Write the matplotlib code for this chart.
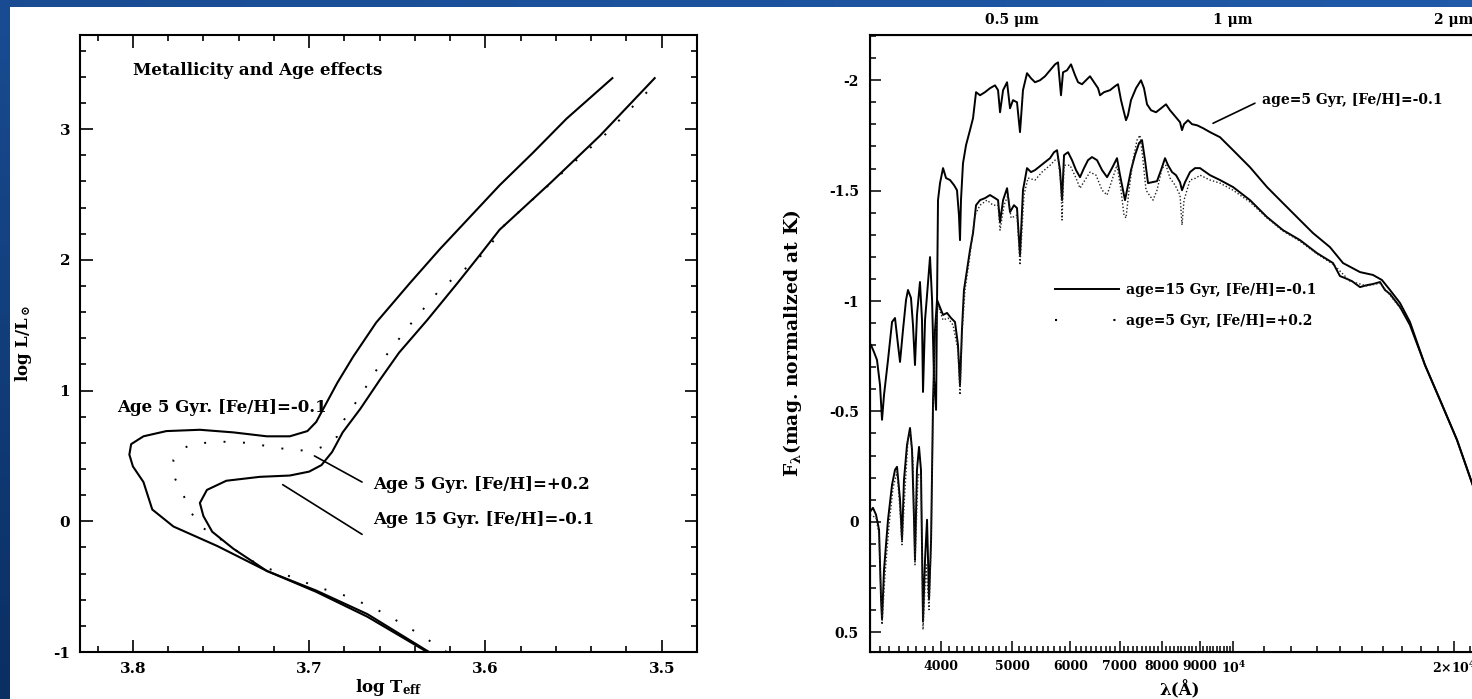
import numpy as np
import matplotlib
matplotlib.use('Agg')
import matplotlib.pyplot as plt
from matplotlib.lines import Line2D
from matplotlib.patches import Rectangle
from matplotlib.ticker import MultipleLocator, NullFormatter

plt.rcParams['font.family'] = ['DejaVu Serif']
plt.rcParams['font.weight'] = 'bold'
plt.rcParams['axes.labelweight'] = 'bold'
plt.rcParams['mathtext.fontset'] = 'custom'
plt.rcParams['mathtext.rm'] = 'DejaVu Serif:bold'
plt.rcParams['mathtext.it'] = 'DejaVu Serif:italic:bold'
plt.rcParams['mathtext.bf'] = 'DejaVu Serif:bold'
plt.rcParams['mathtext.default'] = 'rm'
plt.rcParams['axes.unicode_minus'] = False

# ---- left panel: isochrones (log Teff, log L/Lsun) ----
# Age 5 Gyr, [Fe/H]=-0.1
iso_a_logt = [3.633, 3.667, 3.696, 3.724, 3.752, 3.777, 3.789, 3.794, 3.800, 3.802, 3.801,
              3.794, 3.781, 3.762, 3.743, 3.724, 3.711, 3.701, 3.696, 3.690, 3.684, 3.675,
              3.662, 3.643, 3.626, 3.592, 3.573, 3.554, 3.528]
iso_a_logl = [-1.00, -0.73, -0.54, -0.38, -0.19, -0.04, 0.09, 0.30, 0.42, 0.51, 0.59,
              0.65, 0.69, 0.70, 0.68, 0.65, 0.65, 0.69, 0.76, 0.91, 1.06, 1.26,
              1.52, 1.82, 2.08, 2.57, 2.82, 3.08, 3.39]
# Age 15 Gyr, [Fe/H]=-0.1
iso_b_logt = [3.632, 3.667, 3.696, 3.724, 3.743, 3.755, 3.760, 3.762, 3.758, 3.747, 3.728,
              3.711, 3.700, 3.693, 3.687, 3.681, 3.671, 3.660, 3.649, 3.633, 3.616, 3.603,
              3.592, 3.563, 3.535, 3.504]
iso_b_logl = [-1.00, -0.71, -0.53, -0.38, -0.21, -0.08, 0.04, 0.14, 0.24, 0.31, 0.34,
              0.35, 0.38, 0.43, 0.53, 0.68, 0.86, 1.08, 1.29, 1.54, 1.82, 2.04,
              2.23, 2.59, 2.95, 3.39]
# Age 5 Gyr, [Fe/H]=+0.2 (dotted)
iso_c_logt = [3.622, 3.639, 3.658, 3.677, 3.696, 3.715, 3.728, 3.743, 3.755, 3.762, 3.767,
              3.772, 3.777, 3.777, 3.772, 3.767, 3.751, 3.735, 3.717, 3.707, 3.696, 3.689,
              3.684, 3.680, 3.670, 3.658, 3.643, 3.626, 3.600, 3.589, 3.561, 3.532, 3.502]
iso_c_logl = [-1.00, -0.85, -0.70, -0.58, -0.50, -0.40, -0.34, -0.21, -0.09, -0.04, 0.07,
              0.22, 0.35, 0.47, 0.55, 0.59, 0.61, 0.60, 0.56, 0.54, 0.55, 0.59,
              0.65, 0.78, 0.98, 1.24, 1.50, 1.77, 2.06, 2.27, 2.61, 2.96, 3.37]

# ---- right panel: spectra, wavelength (A) and magnitude ----
sp_old_wave = [3210, 3240, 3271, 3302, 3323, 3344, 3386, 3429, 3461, 3494, 3516, 3549, 3583,
               3605, 3639, 3662, 3685, 3708, 3743, 3767, 3779, 3803, 3827, 3863, 3888, 3912,
               3937, 3949, 3961, 3986, 4024, 4062, 4113, 4165, 4204, 4230, 4244, 4257, 4284,
               4325, 4379, 4421, 4463, 4519, 4590, 4663, 4737, 4782, 4812, 4858, 4919, 4965,
               5012, 5075, 5123, 5171, 5237, 5303, 5370, 5455, 5541, 5629, 5718, 5772, 5826,
               5863, 5937, 6012, 6088, 6146, 6223, 6301, 6381, 6462, 6544, 6585, 6668, 6794,
               6902, 6967, 7033, 7077, 7144, 7189, 7257, 7372, 7488, 7559, 7631, 7728, 7849,
               7974, 8099, 8202, 8332, 8463, 8516, 8570, 8678, 8788, 8927, 9096, 9298, 9594,
               9997, 10541, 11120, 11581, 12215, 12842, 13547, 14112, 14885, 15504, 15946,
               16352, 16875, 17411, 18250, 19130, 20177, 21149, 21693]
sp_old_mag = [-0.801, -0.769, -0.733, -0.620, -0.462, -0.575, -0.733, -0.905, -0.923, -0.801,
              -0.724, -0.869, -1.005, -1.050, -1.014, -0.891, -0.710, -0.937, -1.086, -0.914,
              -0.588, -0.914, -1.027, -1.199, -1.005, -0.643, -0.507, -1.005, -1.457, -1.534,
              -1.602, -1.557, -1.548, -1.525, -1.502, -1.389, -1.276, -1.457, -1.624, -1.706,
              -1.774, -1.828, -1.946, -1.932, -1.946, -1.964, -1.977, -1.955, -1.855, -1.955,
              -1.991, -1.873, -1.910, -1.900, -1.765, -1.955, -2.032, -2.009, -1.991, -2.000,
              -2.018, -2.045, -2.072, -2.081, -1.932, -2.036, -2.045, -2.072, -2.023, -1.991,
              -1.982, -2.000, -2.018, -1.991, -1.964, -1.932, -1.946, -1.955, -1.973, -1.982,
              -1.910, -1.873, -1.819, -1.842, -1.910, -1.964, -2.000, -1.964, -1.891, -1.864,
              -1.855, -1.873, -1.891, -1.864, -1.837, -1.810, -1.774, -1.801, -1.819, -1.801,
              -1.796, -1.783, -1.765, -1.742, -1.683, -1.606, -1.516, -1.457, -1.380, -1.308,
              -1.244, -1.172, -1.131, -1.118, -1.095, -1.050, -0.991, -0.905, -0.710, -0.552,
              -0.371, -0.176, -0.077]

sp_young_wave = [3200, 3230, 3261, 3292, 3313, 3323, 3344, 3386, 3429, 3461, 3483, 3516, 3538,
                 3560, 3594, 3628, 3651, 3674, 3685, 3708, 3732, 3755, 3779, 3803, 3827, 3851,
                 3876, 3900, 3924, 3949, 3974, 4024, 4075, 4126, 4178, 4217, 4244, 4270, 4297,
                 4338, 4379, 4421, 4463, 4519, 4590, 4663, 4737, 4782, 4812, 4858, 4919, 4965,
                 5027, 5075, 5123, 5171, 5237, 5303, 5370, 5455, 5541, 5629, 5700, 5754, 5808,
                 5845, 5882, 5956, 6031, 6107, 6184, 6262, 6341, 6421, 6523, 6627, 6732, 6837,
                 6945, 7011, 7077, 7122, 7189, 7257, 7349, 7442, 7512, 7583, 7655, 7752, 7874,
                 7974, 8074, 8151, 8254, 8358, 8463, 8516, 8597, 8733, 8871, 9011, 9298, 9594,
                 9997, 10541, 11120, 11690, 12329, 13005, 13677, 13978, 14198, 14515, 14885,
                 15216, 15504, 15847, 16097, 16352, 16875, 17411, 18250, 19130, 20177, 21149,
                 21693]
sp_young_mag = [-0.045, -0.063, -0.032, 0.036, 0.353, 0.443, 0.217, -0.009, -0.167, -0.235,
                -0.249, -0.100, 0.081, -0.190, -0.348, -0.425, -0.326, -0.009, 0.172, -0.235,
                -0.339, -0.235, 0.452, 0.172, -0.009, 0.353, 0.081, -0.552, -0.869, -1.005,
                -0.982, -0.937, -0.946, -0.923, -0.905, -0.801, -0.620, -0.869, -1.050, -1.140,
                -1.231, -1.308, -1.434, -1.457, -1.466, -1.480, -1.466, -1.457, -1.357, -1.457,
                -1.511, -1.403, -1.434, -1.421, -1.208, -1.502, -1.602, -1.584, -1.593, -1.611,
                -1.629, -1.647, -1.674, -1.683, -1.593, -1.457, -1.661, -1.674, -1.638, -1.593,
                -1.561, -1.602, -1.638, -1.652, -1.638, -1.593, -1.561, -1.602, -1.647, -1.570,
                -1.502, -1.457, -1.525, -1.593, -1.661, -1.715, -1.729, -1.638, -1.534, -1.538,
                -1.543, -1.593, -1.647, -1.615, -1.584, -1.570, -1.538, -1.502, -1.538, -1.584,
                -1.602, -1.602, -1.570, -1.548, -1.516, -1.457, -1.380, -1.321, -1.276, -1.217,
                -1.172, -1.113, -1.104, -1.090, -1.063, -1.072, -1.077, -1.086, -1.050, -1.032,
                -0.973, -0.891, -0.710, -0.552, -0.371, -0.176, -0.077]

sp_metal_wave = [3200, 3261, 3292, 3323, 3354, 3397, 3440, 3483, 3516, 3538, 3571, 3605, 3628,
                 3662, 3685, 3720, 3755, 3779, 3815, 3851, 3876, 3900, 3924, 3961, 4024, 4088,
                 4152, 4217, 4244, 4270, 4311, 4379, 4449, 4519, 4619, 4707, 4782, 4812, 4873,
                 4934, 4981, 5075, 5123, 5187, 5253, 5370, 5489, 5629, 5718, 5772, 5826, 5845,
                 5882, 5993, 6107, 6184, 6282, 6381, 6503, 6627, 6732, 6837, 6945, 7033, 7099,
                 7144, 7212, 7303, 7395, 7465, 7535, 7607, 7704, 7776, 7874, 7999, 8099, 8202,
                 8332, 8463, 8516, 8570, 8733, 8899, 9011, 9298, 9594, 9997, 10541, 11120,
                 11690, 12329, 13005, 13677, 14426, 15216, 15847, 16352, 16875]
sp_metal_mag = [-0.032, -0.018, 0.059, 0.466, 0.240, 0.014, -0.154, -0.226, -0.054, 0.104,
                -0.145, -0.371, -0.407, -0.281, 0.195, -0.213, -0.213, 0.489, 0.195, 0.398,
                0.104, -0.507, -0.824, -0.982, -0.914, -0.923, -0.891, -0.778, -0.575, -0.846,
                -1.050, -1.208, -1.389, -1.434, -1.457, -1.434, -1.434, -1.321, -1.434, -1.480,
                -1.376, -1.389, -1.163, -1.480, -1.557, -1.548, -1.584, -1.615, -1.638, -1.647,
                -1.525, -1.367, -1.615, -1.615, -1.557, -1.511, -1.548, -1.584, -1.570, -1.502,
                -1.480, -1.548, -1.615, -1.502, -1.389, -1.376, -1.502, -1.638, -1.729, -1.751,
                -1.638, -1.502, -1.475, -1.457, -1.502, -1.602, -1.615, -1.557, -1.525, -1.480,
                -1.344, -1.457, -1.548, -1.557, -1.570, -1.548, -1.534, -1.502, -1.448, -1.376,
                -1.317, -1.271, -1.213, -1.167, -1.090, -1.068, -1.081, -1.027, -0.968]

W, H = 1472, 699
fig = plt.figure(figsize=(W / 100, H / 100), dpi=100)

# slide background (blue) with the white scanned page on top
bg = fig.add_axes([0, 0, 1, 1], zorder=-10)
gy, gx = np.mgrid[0:1:60j, 0:1:60j]
shade = 0.55 * gy + 0.25 * (1 - gx)
bg.imshow(shade, cmap=matplotlib.colors.LinearSegmentedColormap.from_list(
    'slide', ['#2059a8', '#0a2f63']), aspect='auto', extent=[0, 1, 0, 1])
bg.set_axis_off()
fig.patches.append(Rectangle((10 / W, 0), 1, (H - 7) / H, transform=fig.transFigure,
                             facecolor='white', edgecolor='none', zorder=-5))

# ---------------- left panel ----------------
ax1 = fig.add_axes([80 / W, 47 / H, 617 / W, 617 / H])
ax1.plot(iso_a_logt, iso_a_logl, color='black', lw=1.5)
ax1.plot(iso_b_logt, iso_b_logl, color='black', lw=1.5)
ax1.plot(iso_c_logt, iso_c_logl, color='black', lw=1.4, ls=(0, (1, 9)))
ax1.set_xlim(3.830, 3.480)
ax1.set_ylim(-1.0, 3.72)
ax1.set_xticks([3.8, 3.7, 3.6, 3.5])
ax1.set_yticks([-1, 0, 1, 2, 3])
ax1.xaxis.set_minor_locator(MultipleLocator(0.02))
ax1.yaxis.set_minor_locator(MultipleLocator(0.2))
ax1.tick_params(which='both', direction='in', top=True, right=True, width=1.2,
                labelsize=11, pad=7)
ax1.tick_params(which='major', length=9)
ax1.tick_params(which='minor', length=4.5)
for s in ax1.spines.values():
    s.set_linewidth(1.5)
ax1.set_xlabel('log T$_{eff}$', fontsize=12, labelpad=1)
ax1.set_ylabel('log L/L$_\\odot$', fontsize=12, labelpad=14)

ax1.text(3.800, 3.45, 'Metallicity and Age effects', fontsize=12, ha='left', va='center')
ax1.text(3.809, 0.87, 'Age 5 Gyr. [Fe/H]=-0.1', fontsize=12, ha='left', va='center')
ax1.text(3.664, 0.28, 'Age 5 Gyr. [Fe/H]=+0.2', fontsize=12, ha='left', va='center')
ax1.text(3.664, 0.015, 'Age 15 Gyr. [Fe/H]=-0.1', fontsize=12, ha='left', va='center')
ax1.annotate('', xy=(3.697, 0.50), xytext=(3.670, 0.30),
             arrowprops=dict(arrowstyle='-', lw=1.2, color='black', shrinkA=0, shrinkB=0))
ax1.annotate('', xy=(3.715, 0.28), xytext=(3.670, -0.10),
             arrowprops=dict(arrowstyle='-', lw=1.2, color='black', shrinkA=0, shrinkB=0))

# ---------------- right panel ----------------
ax2 = fig.add_axes([870 / W, 47 / H, 620 / W, 617 / H])
ax2.plot(sp_old_wave, sp_old_mag, color='black', lw=1.4)
ax2.plot(sp_young_wave, sp_young_mag, color='black', lw=1.4)
ax2.plot(sp_metal_wave, sp_metal_mag, color='#222222', lw=1.0, ls=(0, (1, 1.5)))
ax2.set_xscale('log')
ax2.set_xlim(3200, 22380)
ax2.set_ylim(0.59, -2.205)

major_w = [4000, 5000, 6000, 7000, 8000, 9000, 10000, 20000]
major_lab = ['4000', '5000', '6000', '7000', '8000', '9000', '$10^4$', '$2{\\times}10^4$']
minor_w = list(range(3300, 10000, 100)) + list(range(11000, 23000, 1000))
ax2.set_xticks(major_w, labels=major_lab)
ax2.set_xticks(minor_w, minor=True)
ax2.xaxis.set_minor_formatter(NullFormatter())
ax2.set_yticks([-2, -1.5, -1, -0.5, 0, 0.5], labels=['-2', '-1.5', '-1', '-0.5', '0', '0.5'])
ax2.yaxis.set_minor_locator(MultipleLocator(0.1))
ax2.tick_params(which='both', direction='in', top=True, right=True, width=1.1)
ax2.tick_params(axis='x', labelsize=9, pad=6)
ax2.tick_params(axis='y', labelsize=10, pad=8)
ax2.tick_params(which='major', length=8)
ax2.tick_params(which='minor', length=4)
for s in ax2.spines.values():
    s.set_linewidth(1.5)
ax2.set_xlabel('λ(Å)', fontsize=12, labelpad=3)
ax2.set_ylabel('F$_\\lambda$(mag. normalized at K)', fontsize=13.5, labelpad=18)

top = ax2.twiny()
top.set_xscale('log')
top.set_xlim(ax2.get_xlim())
top.set_xticks([5000, 10000, 20000], labels=['0.5 μm', '1 μm', '2 μm'])
top.set_xticks([], minor=True)
top.xaxis.set_minor_formatter(NullFormatter())
top.tick_params(which='both', length=0, labelsize=10, pad=6)

ax2.text(10945, -1.91, 'age=5 Gyr, [Fe/H]=-0.1', fontsize=10, ha='left', va='center')
ax2.annotate('', xy=(9386, -1.805), xytext=(10705, -1.896),
             arrowprops=dict(arrowstyle='-', lw=1.2, color='black', shrinkA=0, shrinkB=0))

handles = [Line2D([], [], color='black', lw=1.4),
           Line2D([], [], color='black', lw=1.5, ls=(0, (1, 27)))]
ax2.legend(handles, ['age=15 Gyr, [Fe/H]=-0.1', 'age=5 Gyr, [Fe/H]=+0.2'],
           loc='center left', bbox_to_anchor=(0.298, 0.5616), frameon=False,
           fontsize=10, handlelength=4.6, handletextpad=0.55, labelspacing=1.2,
           borderpad=0, borderaxespad=0)

fig.savefig('out.png', dpi=100)
